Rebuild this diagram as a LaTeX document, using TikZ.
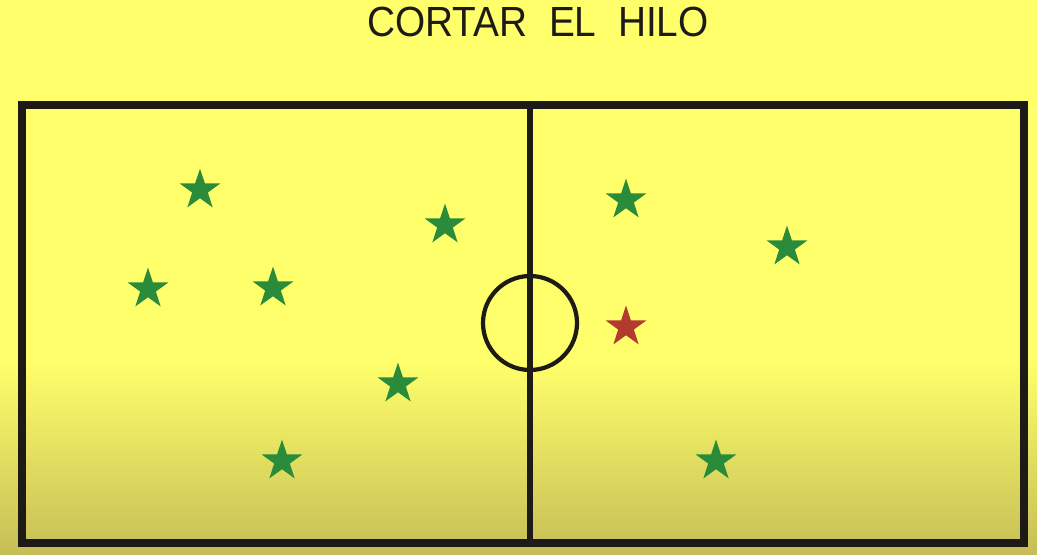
\documentclass[tikz,border=0pt]{standalone}
\usepackage{fontspec}
\setmainfont{Liberation Sans}
\usetikzlibrary{shapes.geometric}
\definecolor{fieldyellow}{RGB}{255,255,107}
\definecolor{fieldolive}{RGB}{198,190,86}
\definecolor{lineblack}{RGB}{30,26,22}
\definecolor{playergreen}{RGB}{42,140,58}
\definecolor{playerred}{RGB}{178,58,46}
\tikzset{
  player/.style={star, star points=5, star point ratio=2.6, minimum size=0.86cm,
                 inner sep=0pt, fill=playergreen},
  chaser/.style={player, fill=playerred},
  boundary/.style={draw=lineblack, line width=4.5pt},
  midline/.style={draw=lineblack, line width=3.4pt},
  centerring/.style={draw=lineblack, line width=2.4pt},
}

\begin{document}
\begin{tikzpicture}[x=0.02cm, y=-0.02cm]
  % Background
  \fill[fieldyellow] (0,0) rectangle (1037,554);
  \shade[top color=fieldyellow, bottom color=fieldolive] (0,360) rectangle (1037,554);

  % Title
  \node[font=\fontsize{24}{28}\selectfont, text=lineblack, xscale=0.92] (title) at (538,22)
    {CORTAR\ \ EL\ \ HILO};

  % Field
  \draw[boundary] (22,105) rectangle (1024,543);
  \draw[midline] (530,105) -- (530,543);
  \draw[centerring] (530,323) circle (47);

  % Players
  \foreach \px/\py [count=\i] in {200/190, 445/225, 148/289, 273/288, 398/384,
                                  282/461, 626/200, 787/247, 716/461}
    \node[player] (p\i) at (\px,\py) {};
  \node[chaser] (tagger) at (626,327) {};
\end{tikzpicture}
\end{document}
